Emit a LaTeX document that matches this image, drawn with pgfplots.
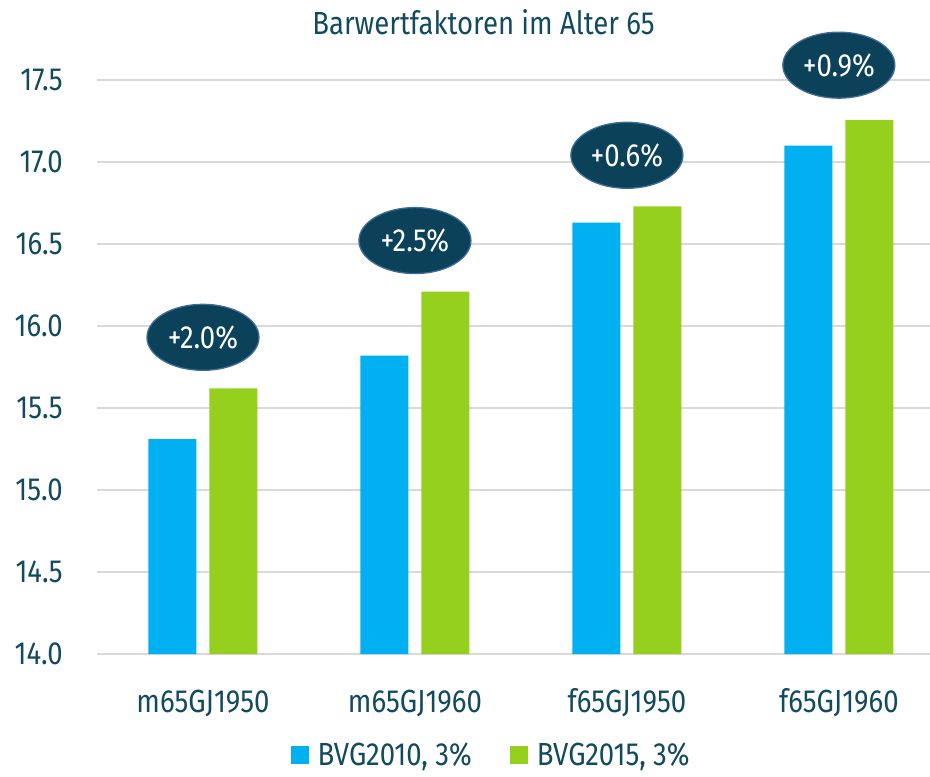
\documentclass[border=0pt]{standalone}
\usepackage{pgfplots}
\pgfplotsset{compat=1.18}
\usepackage{fontspec}
\setmainfont{Fira Sans}[FakeStretch=0.86]
\usetikzlibrary{shapes.geometric}

\definecolor{txt}{HTML}{124A5E}
\definecolor{bvgblue}{HTML}{00B0F0}
\definecolor{bvggreen}{HTML}{95D01E}
\definecolor{bubble}{HTML}{0B4159}
\definecolor{bubbleedge}{HTML}{3F6B98}
\definecolor{gridgray}{HTML}{D9D9D9}

\begin{document}
\begin{tikzpicture}[font=\fontsize{32}{37}\selectfont, text=txt]
\begin{axis}[
  at={(97pt,123pt)}, anchor=south west,
  width=833pt, height=615pt, scale only axis,
  xmin=-0.5, xmax=3.43,
  ymin=14, ymax=17.75,
  ytick={14,14.5,...,17.5},
  xtick={0,1,2,3},
  xticklabels={m65GJ1950,m65GJ1960,f65GJ1950,f65GJ1960},
  /pgf/number format/fixed,
  /pgf/number format/fixed zerofill,
  /pgf/number format/precision=1,
  /pgf/number format/assume math mode=true,
  yticklabel style={anchor=east, inner sep=0pt, xshift=-34pt, text=txt},
  xticklabel style={anchor=base, inner sep=0pt, yshift=-54pt, text=txt},
  axis line style={draw=none},
  major tick style={draw=none},
  ymajorgrids, grid style={gridgray, line width=1.6pt},
  ybar=13pt, bar width=48pt,
  clip mode=individual,
  legend style={at={(0.472,-0.164)}, anchor=center, draw=none, fill=none,
    legend columns=2, font=\fontsize{32}{37}\selectfont, text=txt,
    nodes={inner sep=0pt},
    /tikz/every even column/.append style={column sep=38pt}},
  legend image code/.code={\fill[#1] (0pt,-9pt) rectangle (18pt,9pt); \path (27pt,0pt);},
]
\addplot[fill=bvgblue, draw=none] coordinates {(0,15.31) (1,15.82) (2,16.63) (3,17.10)};
\addplot[fill=bvggreen, draw=none] coordinates {(0,15.62) (1,16.21) (2,16.73) (3,17.255)};
\legend{BVG2010{,} 3\%, BVG2015{,} 3\%}

\tikzset{pct/.style={ellipse, fill=bubble, draw=bubbleedge, line width=1.3pt,
  minimum width=112pt, minimum height=66pt, inner sep=0pt, text=white}}
\node[pct, yshift=51pt] at (axis cs:0,15.62) {+2.0\%};
\node[pct, yshift=51pt] at (axis cs:1,16.21) {+2.5\%};
\node[pct, yshift=51pt] at (axis cs:2,16.73) {+0.6\%};
\node[pct, yshift=55pt] at (axis cs:3,17.255) {+0.9\%};
\end{axis}
\node at (483.5pt,755pt) {Barwertfaktoren im Alter 65};
\pgfresetboundingbox
\path[use as bounding box] (0,0) rectangle (930pt,777pt);
\end{tikzpicture}
\end{document}
